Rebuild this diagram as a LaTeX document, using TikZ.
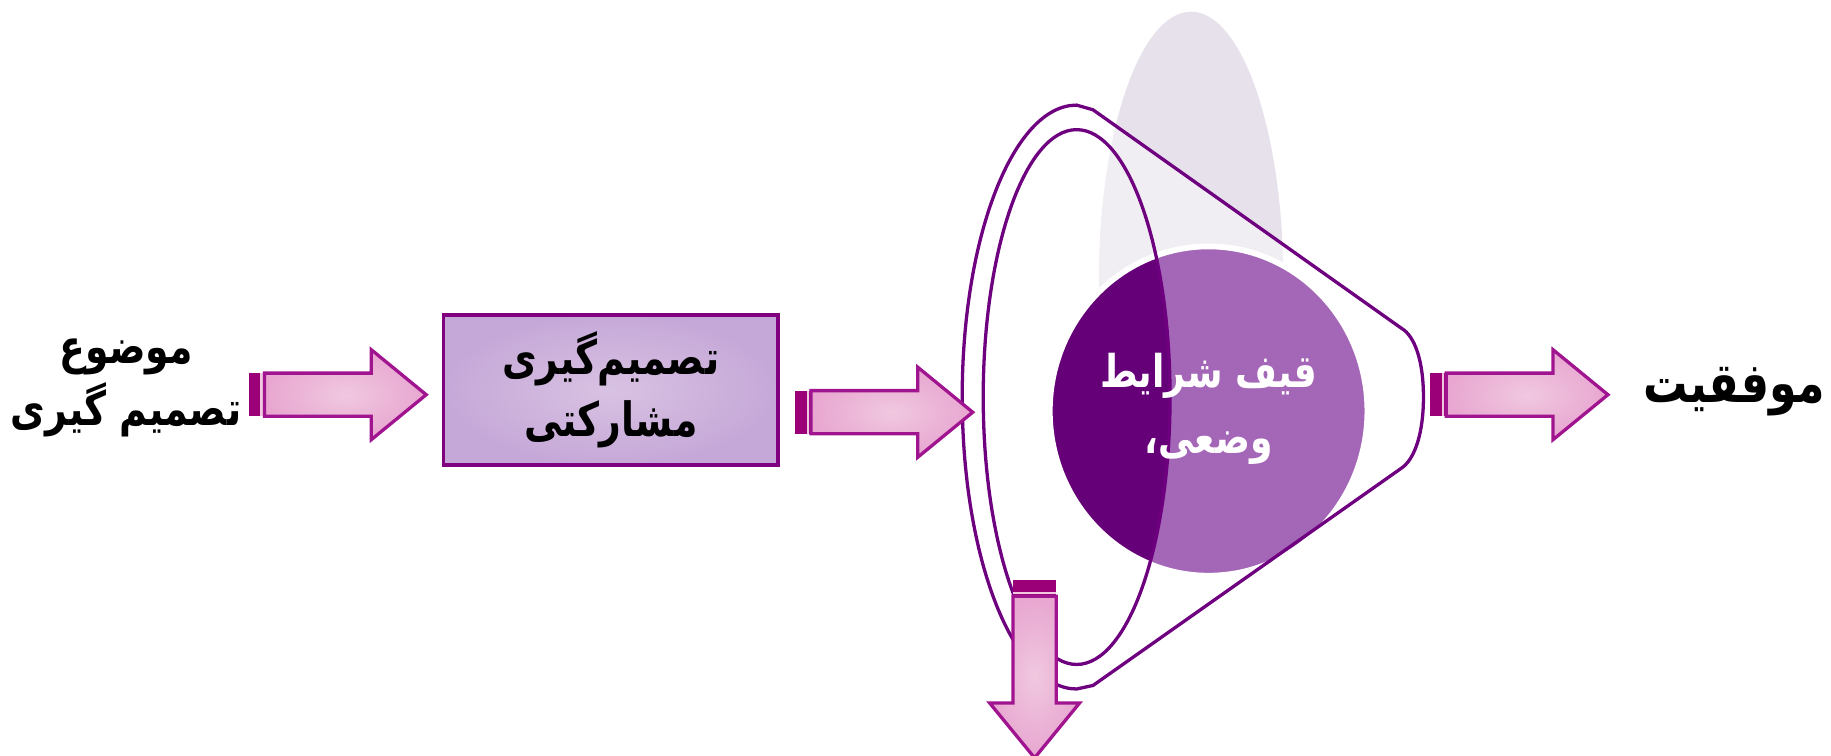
\documentclass[tikz,border=0pt]{standalone}
\usepackage{fontspec}
\newfontfamily\farsi[Script=Arabic, FakeStretch=0.8]{DejaVu Sans}
\TeXXeTstate=1
\definecolor{arrowbar}{HTML}{9C0078}
\definecolor{arrowline}{HTML}{A01490}
\definecolor{arrowlight}{HTML}{F0C8E0}
\definecolor{arrowpink}{HTML}{E8A6D0}
\definecolor{boxline}{HTML}{800080}
\definecolor{boxlight}{HTML}{D8C2E2}
\definecolor{boxdark}{HTML}{C6A8D8}
\definecolor{funnelline}{HTML}{6E0080}
\definecolor{ghost}{HTML}{E6E1EB}
\definecolor{lilac}{HTML}{A466B6}
\definecolor{plum}{HTML}{660078}
\tikzset{
  fatarrow/.pic={
    \fill[arrowbar] (0,-18.5) rectangle (10,18.5);
    \fill[arrowlight] (10,-18.5) rectangle (12,18.5);
    \fill[arrowbar] (12,-18.5) rectangle (13.5,18.5);
    \shadedraw[inner color=arrowlight, outer color=arrowpink, draw=arrowline, line width=0.8pt]
      (13.5,-18.5) -- (105,-18.5) -- (105,-38.5) -- (152,0) -- (105,38.5) -- (105,18.5) -- (13.5,18.5) -- cycle;
  },
  fatext/.style={font=\farsi\bfseries\fontsize{11.5}{15}\selectfont, align=center},
  decbox/.style={draw=boxline, line width=0.9pt, inner color=boxlight, outer color=boxdark,
    minimum width=2.86cm, minimum height=1.28cm},
  rim/.style={draw=funnelline, line width=0.8pt},
}
\begin{document}
\begin{tikzpicture}[x=0.01cm, y=-0.01cm]
    \useasboundingbox (0,0) rectangle (1568,647);
    % funnel in the back
    \fill[ghost] (1020,240) ellipse[x radius=79, y radius=230];
    \fill[white, fill opacity=0.4] (922,90) .. controls (868,90) and (824,202) .. (824,340)
      .. controls (824,478) and (868,590) .. (922,590) -- (936,587) -- (1200,401)
      .. controls (1212,393) and (1219,370) .. (1219,340) .. controls (1219,310) and (1212,288) .. (1200,281)
      -- (936,94) -- cycle;
    \fill[lilac] (1035,352) ellipse[x radius=135, y radius=140];
    \begin{scope}
      \clip (922,340) ellipse[x radius=80, y radius=229];
      \fill[plum] (1035,352) ellipse[x radius=135, y radius=140];
    \end{scope}
    \draw[white, line width=1.4pt] (1035,352) ellipse[x radius=136, y radius=141];
    %
    \draw[rim] (922,90) .. controls (868,90) and (824,202) .. (824,340)
      .. controls (824,478) and (868,590) .. (922,590) -- (936,587) -- (1200,401)
      .. controls (1212,393) and (1219,370) .. (1219,340) .. controls (1219,310) and (1212,288) .. (1200,281)
      -- (936,94) -- cycle;
    \draw[rim] (922,340) ellipse[x radius=80, y radius=229];
    %
    \node[fatext] (topic) at (108,332) {\beginR موضوع\endR\\\beginR تصمیم گیری\endR};
    \node[decbox, fatext] (decision) at (523,334) {\beginR تصمیم‌گیری\endR\\\beginR مشارکتی\endR};
    \node[fatext, text=white, font=\farsi\bfseries\fontsize{11}{16}\selectfont] (funnel) at (1035,350) {\beginR قیف شرایط\endR\\\beginR وضعی،\endR};
    \node[font=\farsi\bfseries\fontsize{13.5}{18}\selectfont] (success) at (1485,335) {\beginR موفقیت\endR};
    %
    \pic at (213,338) {fatarrow};
    \pic at (681,353) {fatarrow};
    \pic at (1225,338) {fatarrow};
    \pic[rotate=-90] at (886,497) {fatarrow};
\end{tikzpicture}
\end{document}
